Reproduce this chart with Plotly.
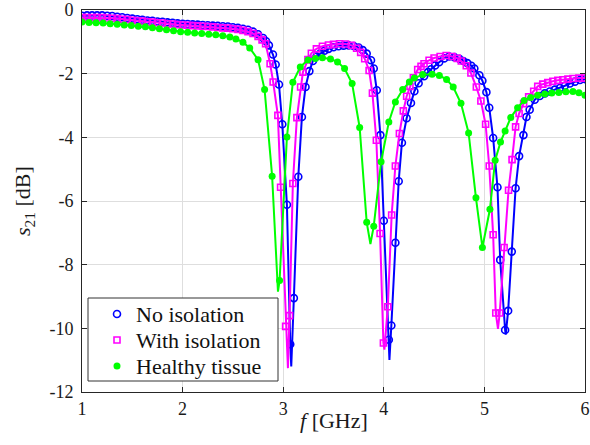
import plotly.graph_objects as go

# ---------------- data ----------------
# No isolation : marker points
f_noiso = [1.00, 1.05, 1.10, 1.15, 1.20, 1.25, 1.30, 1.35, 1.40, 1.45, 1.50, 1.55, 1.60, 1.65,
           1.70, 1.75, 1.80, 1.85, 1.90, 1.95, 2.00, 2.05, 2.10, 2.15, 2.20, 2.25, 2.30, 2.35,
           2.40, 2.45, 2.50, 2.55, 2.60, 2.65, 2.70, 2.75, 2.80, 2.83, 2.858, 2.898, 2.925,
           2.958, 2.991, 3.037, 3.07, 3.106, 3.15, 3.186, 3.222, 3.26, 3.295, 3.33, 3.37, 3.41,
           3.45, 3.50, 3.55, 3.60, 3.65, 3.70, 3.75, 3.79, 3.83, 3.873, 3.90, 3.93, 3.966, 4.00,
           4.05, 4.075, 4.115, 4.148, 4.18, 4.227, 4.27, 4.304, 4.346, 4.40, 4.44, 4.47, 4.51,
           4.55, 4.60, 4.65, 4.70, 4.75, 4.79, 4.83, 4.87, 4.90, 4.95, 4.98, 5.02, 5.048, 5.087,
           5.13, 5.157, 5.206, 5.236, 5.272, 5.31, 5.345, 5.388, 5.418, 5.45, 5.50, 5.55, 5.60,
           5.65, 5.70, 5.75, 5.80, 5.85, 5.90, 5.95, 6.00]
s_noiso = [-0.18, -0.17, -0.17, -0.17, -0.17, -0.18, -0.19, -0.21, -0.23, -0.25, -0.27, -0.29,
           -0.31, -0.33, -0.34, -0.36, -0.37, -0.39, -0.40, -0.42, -0.43, -0.44, -0.45, -0.46,
           -0.47, -0.48, -0.49, -0.50, -0.51, -0.52, -0.54, -0.56, -0.59, -0.62, -0.68, -0.76,
           -0.88, -0.98, -1.11, -1.40, -1.71, -2.34, -3.59, -6.12, -10.5, -9.05, -5.24, -3.36,
           -2.42, -1.92, -1.60, -1.46, -1.36, -1.28, -1.22, -1.17, -1.14, -1.12, -1.11, -1.13,
           -1.18, -1.26, -1.37, -1.58, -1.84, -2.52, -3.93, -6.62, -10.36, -9.91, -7.31, -5.38,
           -4.17, -3.40, -2.92, -2.55, -2.30, -2.08, -1.95, -1.86, -1.74, -1.64, -1.52, -1.46,
           -1.48, -1.53, -1.60, -1.67, -1.75, -1.84, -2.05, -2.22, -2.58, -3.07, -4.02, -5.57,
           -7.85, -10.05, -9.45, -7.59, -5.60, -4.59, -3.93, -3.36, -3.13, -2.82, -2.70, -2.62,
           -2.56, -2.50, -2.45, -2.38, -2.31, -2.25, -2.20, -2.17]
# No isolation : extra curve points (resonance minima between markers)
f_noiso_min = [3.08, 4.056, 5.212]
s_noiso_min = [-11.2, -10.99, -10.2]

# With isolation : marker points
f_iso = [1.00, 1.05, 1.10, 1.15, 1.20, 1.25, 1.30, 1.35, 1.40, 1.45, 1.50, 1.55, 1.60, 1.65,
         1.70, 1.75, 1.80, 1.85, 1.90, 1.95, 2.00, 2.05, 2.10, 2.15, 2.20, 2.25, 2.30, 2.35,
         2.40, 2.45, 2.50, 2.55, 2.60, 2.65, 2.70, 2.75, 2.79, 2.825, 2.87, 2.90, 2.947, 2.974,
         3.024, 3.063, 3.096, 3.136, 3.173, 3.196, 3.246, 3.28, 3.33, 3.39, 3.45, 3.50, 3.56,
         3.62, 3.68, 3.73, 3.77, 3.81, 3.854, 3.887, 3.926, 3.963, 3.996, 4.04, 4.078, 4.115,
         4.155, 4.194, 4.227, 4.26, 4.294, 4.337, 4.37, 4.40, 4.45, 4.50, 4.56, 4.62, 4.68,
         4.73, 4.77, 4.82, 4.866, 4.92, 4.965, 5.012, 5.048, 5.087, 5.113, 5.152, 5.196, 5.24,
         5.275, 5.31, 5.345, 5.39, 5.44, 5.49, 5.53, 5.58, 5.63, 5.68, 5.73, 5.78, 5.83, 5.88,
         5.94, 6.00]
s_iso = [-0.24, -0.24, -0.24, -0.24, -0.24, -0.25, -0.26, -0.27, -0.29, -0.30, -0.32, -0.34,
         -0.35, -0.37, -0.38, -0.40, -0.41, -0.43, -0.44, -0.46, -0.47, -0.48, -0.49, -0.50,
         -0.51, -0.52, -0.53, -0.55, -0.56, -0.57, -0.59, -0.61, -0.64, -0.68, -0.74, -0.83,
         -0.94, -1.06, -1.69, -2.26, -3.31, -5.57, -9.94, -9.60, -5.45, -3.38, -2.42, -1.95,
         -1.56, -1.36, -1.22, -1.14, -1.10, -1.08, -1.06, -1.07, -1.11, -1.20, -1.33, -1.53,
         -1.90, -2.61, -4.09, -7.02, -10.46, -9.32, -6.44, -4.90, -3.88, -3.17, -2.71, -2.40,
         -2.13, -1.87, -1.77, -1.69, -1.58, -1.51, -1.46, -1.43, -1.46, -1.52, -1.60, -1.75,
         -1.98, -2.42, -2.86, -3.59, -4.90, -7.06, -9.52, -9.52, -7.46, -5.66, -4.70, -3.67,
         -3.25, -2.94, -2.73, -2.55, -2.40, -2.33, -2.28, -2.24, -2.21, -2.19, -2.17, -2.15,
         -2.14, -2.14]
f_iso_min = [3.047, 4.006, 5.135]
s_iso_min = [-11.25, -10.67, -10.02]

# Healthy tissue : marker points
f_healthy = [1.00, 1.07, 1.14, 1.21, 1.28, 1.35, 1.42, 1.49, 1.56, 1.63, 1.70, 1.77, 1.84, 1.91,
             1.98, 2.05, 2.12, 2.19, 2.26, 2.33, 2.40, 2.47, 2.53, 2.60, 2.667, 2.75, 2.815, 2.89,
             2.964, 3.037, 3.096, 3.17, 3.246, 3.32, 3.39, 3.47, 3.54, 3.61, 3.685, 3.76, 3.83,
             3.90, 3.973, 4.05, 4.115, 4.188, 4.254, 4.304, 4.386, 4.48, 4.552, 4.624, 4.69,
             4.767, 4.843, 4.916, 4.98, 5.055, 5.107, 5.16, 5.206, 5.262, 5.33, 5.395, 5.46, 5.53,
             5.60, 5.67, 5.74, 5.81, 5.88, 5.94, 6.00]
s_healthy = [-0.38, -0.39, -0.40, -0.41, -0.43, -0.45, -0.47, -0.49, -0.51, -0.53, -0.56, -0.59,
             -0.62, -0.65, -0.68, -0.70, -0.72, -0.74, -0.76, -0.78, -0.81, -0.85, -0.91, -1.01,
             -1.19, -1.56, -2.50, -5.22, -8.50, -3.99, -2.27, -1.79, -1.57, -1.52, -1.50, -1.54,
             -1.63, -1.84, -2.31, -3.69, -6.67, -6.79, -4.77, -3.52, -2.89, -2.50, -2.26, -2.14,
             -2.03, -2.02, -2.06, -2.18, -2.42, -2.93, -3.86, -5.90, -7.46, -6.26, -4.72, -4.15,
             -3.80, -3.38, -3.07, -2.84, -2.75, -2.68, -2.64, -2.61, -2.59, -2.57, -2.56, -2.60,
             -2.68]
f_healthy_min = [2.948, 3.867]
s_healthy_min = [-8.85, -7.35]

series_names = ["No isolation", "With isolation", "Healthy tissue"]
x_ticks = [1, 2, 3, 4, 5, 6]
x_tick_labels = ["1", "2", "3", "4", "5", "6"]
y_ticks = [-12, -10, -8, -6, -4, -2, 0]
y_tick_labels = ["-12", "-10", "-8", "-6", "-4", "-2", "0"]

# ---------------- figure ----------------
def curve(fm, sm, fx, sx):
    pts = sorted(zip(list(fm) + list(fx), list(sm) + list(sx)))
    return [p[0] for p in pts], [p[1] for p in pts]

FONT = "Liberation Serif"
BLUE, MAGENTA, GREEN = "#0000FF", "#FF00FF", "#00FF00"
series = [
    (f_noiso, s_noiso, f_noiso_min, s_noiso_min, BLUE,
     dict(symbol="circle-open", size=7, color=BLUE, line=dict(width=1.6, color=BLUE))),
    (f_iso, s_iso, f_iso_min, s_iso_min, MAGENTA,
     dict(symbol="square-open", size=6, color=MAGENTA, line=dict(width=1.6, color=MAGENTA))),
    (f_healthy, s_healthy, f_healthy_min, s_healthy_min, GREEN,
     dict(symbol="circle", size=7, color=GREEN, line=dict(width=0))),
]

fig = go.Figure()
for (fm, sm, fx, sx, col, mk), name in zip(series, series_names):
    cx, cy = curve(fm, sm, fx, sx)
    fig.add_trace(go.Scatter(x=cx, y=cy, mode="lines", line=dict(color=col, width=2),
                             showlegend=False, hoverinfo="skip"))
    fig.add_trace(go.Scatter(x=fm, y=sm, mode="markers", marker=mk, name=name,
                             showlegend=False))

axis_common = dict(showline=True, linecolor="#262626", linewidth=1, mirror="ticks",
                   ticks="inside", ticklen=5, tickcolor="#262626", tickwidth=1,
                   showgrid=True, gridcolor="#dedede", gridwidth=1, zeroline=False,
                   automargin=False,
                   tickfont=dict(family=FONT, size=18, color="#1a1a1a"))

# ---- legend box (MATLAB-style, drawn as shapes + text) ----
PW, PH = 503.0, 382.0          # plot area size in px
def px_x(px):
    return (px - 82) / PW
def px_y(py):
    return (392 - py) / PH

shapes = [dict(type="rect", xref="paper", yref="paper", x0=px_x(88), x1=px_x(278),
               y0=px_y(381), y1=px_y(298), line=dict(color="#333333", width=1),
               fillcolor="white", layer="above")]
annotations = []
entry_y = [314, 340, 366]
legend_marks = [("circle", BLUE, False, 3.5), ("rect", MAGENTA, False, 3.0),
                ("circle", GREEN, True, 3.5)]
for name, ey, (kind, col, filled, r) in zip(series_names, entry_y, legend_marks):
    shapes.append(dict(type=kind, xref="paper", yref="paper", xsizemode="pixel",
                       ysizemode="pixel", xanchor=px_x(117), yanchor=px_y(ey),
                       x0=-r, x1=r, y0=-r, y1=r, layer="above",
                       line=dict(color=col, width=0 if filled else 1.6),
                       fillcolor=col if filled else "rgba(0,0,0,0)"))
    annotations.append(dict(text=name, xref="paper", yref="paper", x=px_x(134),
                            y=px_y(ey), xanchor="left", yanchor="middle", showarrow=False,
                            font=dict(family=FONT, size=22, color="#111111")))

annotations += [
    dict(text="<i>f</i> [GHz]", xref="paper", yref="paper", x=0.5, y=0,
         yshift=-28, xanchor="center", yanchor="middle", showarrow=False,
         font=dict(family=FONT, size=22, color="#1a1a1a")),
    dict(text="<i>s</i><sub>21</sub> [dB]", xref="paper", yref="paper", x=0, y=0.5,
         xshift=-58, xanchor="center", yanchor="middle", textangle=-90, showarrow=False,
         font=dict(family=FONT, size=22, color="#1a1a1a")),
]

fig.update_layout(
    width=590, height=445,
    margin=dict(l=82, r=5, t=10, b=53),
    paper_bgcolor="white", plot_bgcolor="white",
    font=dict(family=FONT, color="#1a1a1a"),
    xaxis=dict(range=[1, 6], tickvals=x_ticks, ticktext=x_tick_labels, **axis_common),
    yaxis=dict(range=[-12, 0], tickvals=y_ticks, ticktext=y_tick_labels,
               ticklabelstandoff=4, **axis_common),
    showlegend=False,
    shapes=shapes,
    annotations=annotations,
)

fig.write_html("out.html", config={"displayModeBar": False},
               post_script="document.body.style.margin='0';")
